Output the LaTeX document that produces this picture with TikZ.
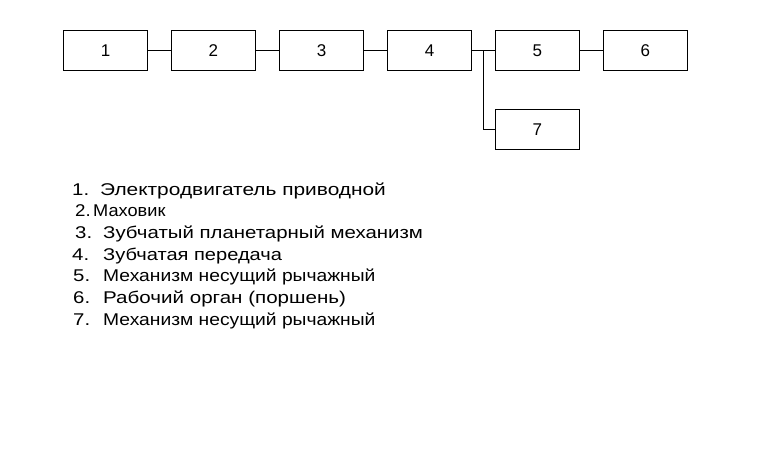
\documentclass[tikz,border=0pt]{standalone}
\usepackage{fontspec}
\setmainfont{Liberation Sans}
\begin{document}
\begin{tikzpicture}[x=1pt,y=1pt,
  blk/.style={draw,line width=0.9pt,minimum width=84pt,minimum height=40pt,inner sep=0pt,font=\fontsize{17}{17}\selectfont},
  conn/.style={line width=0.9pt},
  item/.style={anchor=base west,inner sep=0pt,font=\fontsize{17}{17}\selectfont}]
\useasboundingbox (0,0) rectangle (774,451);
\node[blk] (b1) at (105.5,400.7) {1};
\node[blk] (b2) at (213.3,400.7) {2};
\node[blk] (b3) at (321.5,400.7) {3};
\node[blk] (b4) at (429.5,400.7) {4};
\node[blk] (b5) at (537.3,400.7) {5};
\node[blk] (b6) at (645.3,400.7) {6};
\node[blk] (b7) at (537.3,321.5) {7};
\coordinate (j) at (483.7,400.7);
\draw[conn] (b1) -- (b2);
\draw[conn] (b2) -- (b3);
\draw[conn] (b3) -- (b4);
\draw[conn] (b4) -- (b5);
\draw[conn] (b5) -- (b6);
\draw[conn] (j) |- (b7.west);
\node[item] (n1) at (72,256) {\scalebox{1.2}[1]{1.}};
\node[item] (t1) at (100,256) {\scalebox{1.228}[1]{Электродвигатель приводной}};
\node[item] (n2) at (75,235) {\scalebox{1.1}[1]{2.}};
\node[item] (t2) at (93,235) {\scalebox{1.07}[1]{Маховик}};
\node[item] (n3) at (75,213) {\scalebox{1.2}[1]{3.}};
\node[item] (t3) at (103,213) {\scalebox{1.2}[1]{Зубчатый планетарный механизм}};
\node[item] (n4) at (72,191) {\scalebox{1.2}[1]{4.}};
\node[item] (t4) at (103,191) {\scalebox{1.18}[1]{Зубчатая передача}};
\node[item] (n5) at (73,170) {\scalebox{1.2}[1]{5.}};
\node[item] (t5) at (103,170) {\scalebox{1.133}[1]{Механизм несущий рычажный}};
\node[item] (n6) at (73,148) {\scalebox{1.2}[1]{6.}};
\node[item] (t6) at (103,148) {\scalebox{1.21}[1]{Рабочий орган (поршень)}};
\node[item] (n7) at (73,126) {\scalebox{1.2}[1]{7.}};
\node[item] (t7) at (103,126) {\scalebox{1.133}[1]{Механизм несущий рычажный}};
\end{tikzpicture}
\end{document}
